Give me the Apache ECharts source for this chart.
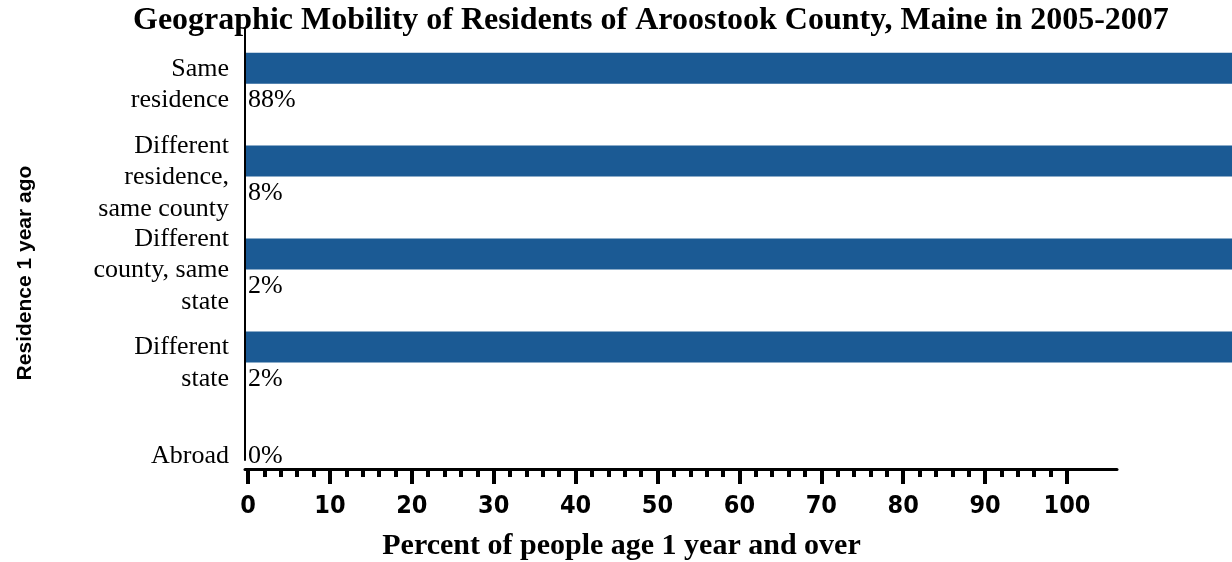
<!DOCTYPE html>
<html>
<head>
<meta charset="utf-8">
<script src="https://cdn.jsdelivr.net/npm/echarts@6/dist/echarts.min.js"></script>
<style>
  html, body { margin: 0; padding: 0; background: #fff; }
  #chart { width: 1232px; height: 562px; }
</style>
</head>
<body>
<div id="chart"></div>
<script>
// Residence one year earlier, Aroostook County, Maine, 2005-2007
const categories = [
  'Same\nresidence',
  'Different\nresidence,\nsame county',
  'Different\ncounty, same\nstate',
  'Different\nstate',
  'Abroad'
];
const percents = [88, 8, 2, 2, 0];
const tickValues = [0, 10, 20, 30, 40, 50, 60, 70, 80, 90, 100];

const titleText = 'Geographic Mobility of Residents of Aroostook County, Maine in 2005-2007';
const xTitle = 'Percent of people age 1 year and over';
const yTitle = 'Residence 1 year ago';

const serif = '"Liberation Serif", "Times New Roman", serif';
const sans = '"Liberation Sans", Arial, sans-serif';
const narrow = '"Liberation Sans Narrow", "DejaVu Sans Condensed", "DejaVu Sans", sans-serif';
const barColor = '#1b5a94';

const barData = percents.map(function (v, i) {
  const item = { value: v };
  // single-line row: its value label sits level with the row label
  if (categories[i].indexOf('\n') < 0) {
    item.label = { position: [2, 32] };
  }
  return item;
});

const chart = echarts.init(document.getElementById('chart'), null, { renderer: 'canvas' });

chart.setOption({
  animation: false,
  backgroundColor: '#fff',
  title: {
    text: titleText,
    left: 133,
    top: 5,
    padding: 0,
    textStyle: { fontFamily: serif, fontWeight: 'bold', fontSize: 32, color: '#000' }
  },
  grid: [
    { left: 246, right: 0, top: 21.7, height: 464.6, outerBoundsMode: 'none' },
    { left: 245, width: 872, top: 400, height: 69, outerBoundsMode: 'none' },
    { left: 248, width: 819, top: 400, height: 69, outerBoundsMode: 'none' },
    { left: 245, width: 10, top: 28, height: 432, outerBoundsMode: 'none' }
  ],
  xAxis: [
    { gridIndex: 0, type: 'value', min: 0, max: 1, show: false },
    {
      gridIndex: 1, type: 'value', min: 0, max: 106, position: 'bottom',
      axisLine: { show: true, onZero: false, lineStyle: { color: '#000', width: 3 } },
      axisTick: { show: false }, axisLabel: { show: false }, splitLine: { show: false }
    },
    {
      gridIndex: 2, type: 'value', position: 'bottom',
      min: tickValues[0], max: tickValues[tickValues.length - 1], interval: 10,
      axisLine: { show: false, onZero: false },
      axisTick: { show: true, inside: false, length: 15, lineStyle: { color: '#000', width: 4 } },
      minorTick: { show: true, splitNumber: 5, length: 8, lineStyle: { color: '#000', width: 4 } },
      splitLine: { show: false },
      axisLabel: {
        show: true, margin: 25, color: '#000',
        fontFamily: narrow, fontWeight: 'bold', fontSize: 25,
        formatter: function (v) { return tickValues.indexOf(v) >= 0 ? String(v) : ''; }
      },
      name: xTitle,
      nameLocation: 'middle',
      nameGap: 62,
      nameTextStyle: {
        fontFamily: serif, fontWeight: 'bold', fontSize: 30, color: '#000',
        padding: [0, 72, 0, 0]
      }
    },
    { gridIndex: 3, type: 'value', show: false }
  ],
  yAxis: [
    {
      gridIndex: 0, type: 'category', data: categories, inverse: true,
      axisLine: { show: false }, axisTick: { show: false }, splitLine: { show: false },
      axisLabel: {
        show: true, interval: 0, margin: 17, color: '#000', align: 'right',
        fontFamily: serif, fontSize: 26, lineHeight: 31.5,
        // a leading spacer line lowers each row label below its bar
        formatter: function (name) { return '{pad| }\n' + name; },
        rich: { pad: { fontSize: 2, lineHeight: 33 } }
      }
    },
    { gridIndex: 1, type: 'value', min: 0, max: 1, show: false },
    { gridIndex: 2, type: 'value', min: 0, max: 1, show: false },
    {
      gridIndex: 3, type: 'value', min: 0, max: 1,
      axisLine: { show: true, onZero: false, lineStyle: { color: '#000', width: 2 } },
      axisTick: { show: false }, axisLabel: { show: false }, splitLine: { show: false },
      name: yTitle,
      nameLocation: 'middle',
      nameGap: 209,
      nameRotate: 90,
      nameTextStyle: {
        fontFamily: sans, fontWeight: 'bold', fontSize: 21, color: '#000',
        padding: [0, 58, 0, 0]
      }
    }
  ],
  series: [
    {
      type: 'bar',
      xAxisIndex: 0,
      yAxisIndex: 0,
      data: barData,
      barWidth: 31,
      clip: true,
      itemStyle: { color: barColor },
      label: {
        show: true,
        position: [2, 48],
        verticalAlign: 'middle',
        align: 'left',
        fontFamily: serif,
        fontSize: 26,
        color: '#000',
        formatter: function (p) { return p.value + '%'; }
      }
    }
  ]
});
</script>
</body>
</html>
